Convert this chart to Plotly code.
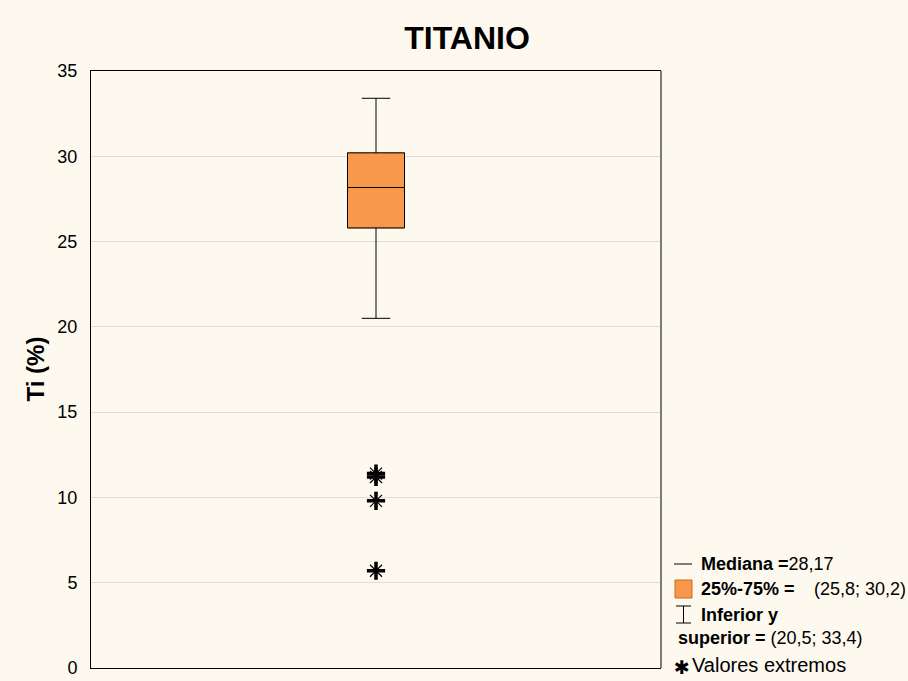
import plotly.graph_objects as go

# Titanium content summary (Ti, %)
median = [28.17]
q1 = [25.8]
q3 = [30.2]
lower = [20.5]
upper = [33.4]
outliers = [11.4, 11.2, 9.8, 5.7]
y_ticks = [0, 5, 10, 15, 20, 25, 30, 35]

BG = "#FDF9EF"
FILL = "#F7984A"
EDGE = "#C96A2B"
FONT = "Liberation Sans, Arial, sans-serif"


def fmt(v, nd=None):
    s = f"{v:.{nd}f}" if nd is not None else f"{v:g}"
    return s.replace(".", ",")


fig = go.Figure()

# Box with black whiskers and median
fig.add_trace(go.Box(
    x=[0], q1=q1, median=median, q3=q3,
    lowerfence=lower, upperfence=upper,
    width=0.1, whiskerwidth=0.5,
    fillcolor=FILL, line=dict(color="black", width=1),
    boxpoints=False, hoverinfo="skip", showlegend=False,
))

# Orange outline of the interquartile box
fig.add_trace(go.Bar(
    x=[0], base=q1, y=[q3[0] - q1[0]], width=0.1,
    marker=dict(color="rgba(0,0,0,0)", line=dict(color=EDGE, width=1)),
    hoverinfo="skip", showlegend=False,
))

# Extreme values: heavy cross plus thin diagonals
fig.add_trace(go.Scatter(
    x=[0] * len(outliers), y=outliers, mode="markers",
    marker=dict(symbol="cross-thin-open", size=13, color="black",
                line=dict(color="black", width=3.5)),
    hoverinfo="skip", showlegend=False,
))
fig.add_trace(go.Scatter(
    x=[0] * len(outliers), y=outliers, mode="markers",
    marker=dict(symbol="x-thin-open", size=12, color="black",
                line=dict(color="black", width=1.2)),
    hoverinfo="skip", showlegend=False,
))

W, H = 908, 681
L, R, T, B = 91, 661, 71, 668


def px(xp):
    return (xp - L) / (R - L)


def py(yp):
    return (B - yp) / (B - T)


shapes = [
    # right frame edge (grey)
    dict(type="line", xref="paper", yref="paper", x0=1, x1=1, y0=0, y1=1,
         line=dict(color="#7A7A7A", width=2)),
    # legend: median dash
    dict(type="line", xref="paper", yref="paper", x0=px(674), x1=px(692),
         y0=py(564), y1=py(564), line=dict(color="black", width=1)),
    # legend: box swatch
    dict(type="rect", xref="paper", yref="paper", x0=px(675), x1=px(692),
         y0=py(598), y1=py(580), fillcolor=FILL, line=dict(color=EDGE, width=1)),
    # legend: whisker icon
    dict(type="line", xref="paper", yref="paper", x0=px(676), x1=px(691),
         y0=py(606), y1=py(606), line=dict(color="black", width=1)),
    dict(type="line", xref="paper", yref="paper", x0=px(683.5), x1=px(683.5),
         y0=py(606), y1=py(623), line=dict(color="black", width=1)),
    dict(type="line", xref="paper", yref="paper", x0=px(676), x1=px(691),
         y0=py(623), y1=py(623), line=dict(color="black", width=1)),
]

lf = dict(family=FONT, size=18, color="black")


def ann(x, y, text, **kw):
    d = dict(xref="paper", yref="paper", x=px(x), y=py(y), text=text,
             showarrow=False, xanchor="left", yanchor="middle", font=lf)
    d.update(kw)
    return d


annotations = [
    ann(699, 564, f"<b>Mediana =</b>{fmt(median[0], 2)}"),
    ann(699, 589, "<b>25%-75% =</b>"),
    ann(812, 589, f"({fmt(q1[0], 1)}; {fmt(q3[0], 1)})"),
    ann(699, 615, "<b>Inferior y</b>"),
    ann(676, 638, f"<b>superior =</b> ({fmt(lower[0], 1)}; {fmt(upper[0], 1)})"),
    ann(681.5, 667, "✱", xanchor="center",
        font=dict(family="DejaVu Sans", size=19, color="black")),
    ann(690, 665, "Valores extremos", font=dict(family=FONT, size=20, color="black")),
    # y-axis title
    dict(xref="paper", yref="paper", x=px(35), y=0.5, text="<b>Ti (%)</b>",
         textangle=-90, showarrow=False, xanchor="center", yanchor="middle",
         font=dict(family=FONT, size=24, color="black")),
]

fig.update_layout(
    width=W, height=H,
    margin=dict(l=L, r=W - R, t=T, b=H - B, autoexpand=False),
    paper_bgcolor=BG, plot_bgcolor=BG,
    title=dict(text="<b>TITANIO</b>", x=467 / W, xanchor="center",
               y=1 - 38 / H, yanchor="middle",
               font=dict(family=FONT, size=32, color="black")),
    shapes=shapes, annotations=annotations,
    barmode="overlay", showlegend=False,
    xaxis=dict(range=[-0.5, 0.5], showticklabels=False, showgrid=False,
               zeroline=False, showline=True, linecolor="black", linewidth=1,
               mirror=True, ticks="", automargin=False),
    yaxis=dict(range=[0, 35], tickvals=y_ticks, ticktext=[str(v) for v in y_ticks],
               showgrid=True, gridcolor="#DCDCDC", gridwidth=1,
               zeroline=False, showline=True, linecolor="black", linewidth=1,
               ticks="", ticklabelstandoff=9, automargin=False,
               tickfont=dict(family=FONT, size=18, color="black")),
)

fig.write_html("out.html")
